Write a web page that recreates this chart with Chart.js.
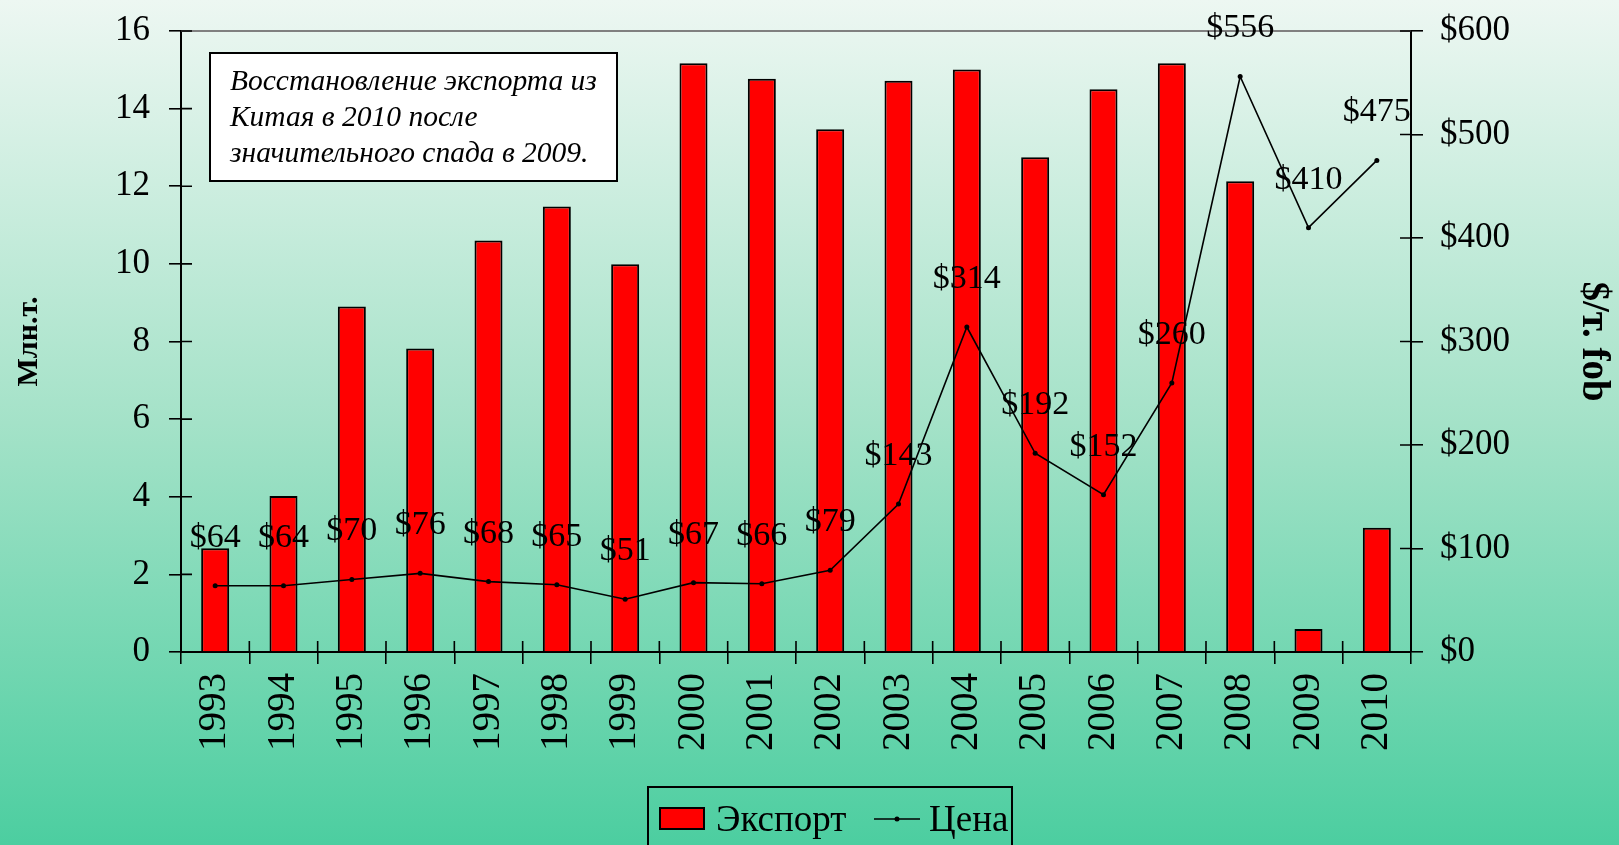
<!DOCTYPE html>
<html>
<head>
<meta charset="utf-8">
<script src="https://cdn.jsdelivr.net/npm/chart.js@4.4.1/dist/chart.umd.min.js"></script>
<style>
  html, body { margin: 0; padding: 0; }
  body {
    width: 1619px; height: 845px; overflow: hidden;
    background: linear-gradient(to bottom, #edf7f2 0%, #a4e2c8 50%, #4ccea0 100%);
  }
  canvas { display: block; }
</style>
</head>
<body>
<canvas id="chart" width="1619" height="845"></canvas>
<script>
const years = ['1993','1994','1995','1996','1997','1998','1999','2000','2001','2002','2003','2004','2005','2006','2007','2008','2009','2010'];
const exportMt = [2.67, 4.02, 8.9, 7.82, 10.6, 11.48, 9.99, 15.17, 14.77, 13.47, 14.72, 15.01, 12.75, 14.5, 15.17, 12.13, 0.59, 3.2];
const priceUsd = [64, 64, 70, 76, 68, 65, 51, 67, 66, 79, 143, 314, 192, 152, 260, 556, 410, 475];
const leftTicks = [0, 2, 4, 6, 8, 10, 12, 14, 16];
const rightTicks = [0, 100, 200, 300, 400, 500, 600];
const noteLines = ['Восстановление экспорта из', 'Китая в 2010 после', 'значительного спада в 2009.'];

const SERIF = '"Liberation Serif", "Times New Roman", serif';

// top border line + crossing tick marks inside the plot
const framePlugin = {
  id: 'frame',
  afterDatasetsDraw(chart) {
    const {ctx, chartArea: a, scales} = chart;
    ctx.save();
    ctx.strokeStyle = '#808080';
    ctx.lineWidth = 2;
    ctx.beginPath();
    ctx.moveTo(a.left, a.top);
    ctx.lineTo(a.right, a.top);
    ctx.stroke();

    ctx.strokeStyle = '#000';
    ctx.lineWidth = 1.6;
    ctx.beginPath();
    scales.y.ticks.forEach((t, i) => {
      const py = scales.y.getPixelForTick(i);
      ctx.moveTo(a.left, py); ctx.lineTo(a.left + 11, py);
    });
    scales.y1.ticks.forEach((t, i) => {
      const py = scales.y1.getPixelForTick(i);
      ctx.moveTo(a.right, py); ctx.lineTo(a.right - 11, py);
    });
    const step = (a.right - a.left) / years.length;
    for (let i = 1; i < years.length; i++) {
      const px = a.left + step * i;
      ctx.moveTo(px, a.bottom); ctx.lineTo(px, a.bottom - 11);
    }
    ctx.stroke();
    ctx.restore();
  }
};

// "$64" style labels above the price points
const priceLabelPlugin = {
  id: 'priceLabels',
  afterDatasetsDraw(chart) {
    const {ctx} = chart;
    const meta = chart.getDatasetMeta(1);
    ctx.save();
    ctx.font = '34px ' + SERIF;
    ctx.fillStyle = '#000';
    ctx.textAlign = 'center';
    ctx.textBaseline = 'middle';
    meta.data.forEach((pt, i) => {
      ctx.fillText('$' + priceUsd[i], pt.x, pt.y - 48);
    });
    ctx.restore();
  }
};

// note box + legend
const extrasPlugin = {
  id: 'extras',
  afterDraw(chart) {
    const {ctx} = chart;
    ctx.save();
    ctx.fillStyle = '#fff';
    ctx.fillRect(210, 53, 407, 128);
    ctx.strokeStyle = '#000';
    ctx.lineWidth = 2;
    ctx.strokeRect(210, 53, 407, 128);
    ctx.fillStyle = '#000';
    ctx.font = 'italic 29.5px ' + SERIF;
    ctx.textAlign = 'left';
    ctx.textBaseline = 'alphabetic';
    noteLines.forEach((s, i) => ctx.fillText(s, 230, 90 + i * 36));

    // legend
    const ds = chart.data.datasets;
    ctx.strokeRect(648, 787, 364, 80);
    ctx.fillStyle = ds[0].backgroundColor;
    ctx.fillRect(660, 808, 44, 21);
    ctx.strokeRect(660, 808, 44, 21);
    ctx.fillStyle = '#000';
    ctx.font = '37px ' + SERIF;
    ctx.fillText(ds[0].label, 716, 831);
    ctx.lineWidth = 1.6;
    ctx.beginPath();
    ctx.moveTo(874, 819); ctx.lineTo(920, 819);
    ctx.stroke();
    ctx.beginPath();
    ctx.arc(897, 819, 2.5, 0, Math.PI * 2);
    ctx.fill();
    ctx.fillText(ds[1].label, 929, 831);
    ctx.restore();
  }
};

const noPad = s => { s.paddingTop = 0; s.paddingBottom = 0; s.paddingLeft = 0; s.paddingRight = 0; };

new Chart(document.getElementById('chart'), {
  data: {
    labels: years,
    datasets: [
      {
        type: 'bar',
        label: 'Экспорт',
        data: exportMt,
        yAxisID: 'y',
        backgroundColor: '#ff0000',
        borderColor: '#000',
        borderWidth: 2,
        barPercentage: 0.41,
        categoryPercentage: 1,
        order: 2
      },
      {
        type: 'line',
        label: 'Цена',
        data: priceUsd,
        yAxisID: 'y1',
        borderColor: '#000',
        borderWidth: 1.6,
        pointRadius: 2.5,
        pointBackgroundColor: '#000',
        pointBorderWidth: 0,
        tension: 0,
        order: 1
      }
    ]
  },
  options: {
    responsive: false,
    animation: false,
    devicePixelRatio: 1,
    layout: { padding: { top: 31, left: 0, right: 0, bottom: 0 } },
    plugins: {
      legend: { display: false },
      tooltip: { enabled: false }
    },
    scales: {
      x: {
        grid: { offset: true, drawOnChartArea: false, tickLength: 12, color: '#000', lineWidth: 1.6 },
        border: { display: true, color: '#000', width: 2 },
        ticks: {
          color: '#000', font: { family: SERIF, size: 39 },
          minRotation: 90, maxRotation: 90, padding: 9, autoSkip: false
        },
        afterFit: s => { s.height = 193; noPad(s); }
      },
      y: {
        position: 'left',
        min: 0, max: 16,
        afterBuildTicks: s => { s.ticks = leftTicks.map(v => ({value: v})); },
        grid: { drawOnChartArea: false, tickLength: 12, color: '#000', lineWidth: 1.6 },
        border: { display: true, color: '#000', width: 2 },
        ticks: { color: '#000', font: { family: SERIF, size: 35 }, padding: 19 },
        title: {
          display: true, text: 'Млн.т.', color: '#000',
          font: { family: SERIF, size: 30, weight: 'bold' },
          padding: { top: 11, bottom: 0 }
        },
        afterFit: s => { s.width = 181; noPad(s); }
      },
      y1: {
        position: 'right',
        min: 0, max: 600,
        afterBuildTicks: s => { s.ticks = rightTicks.map(v => ({value: v})); },
        grid: { drawOnChartArea: false, tickLength: 12, color: '#000', lineWidth: 1.6 },
        border: { display: true, color: '#000', width: 2 },
        ticks: {
          color: '#000', font: { family: SERIF, size: 35 }, padding: 17,
          callback: v => '$' + v
        },
        title: {
          display: true, text: '$/т. fob', color: '#000',
          font: { family: SERIF, size: 39, weight: 'bold' },
          padding: { top: 3, bottom: 0 }
        },
        afterFit: s => { s.width = 208; noPad(s); }
      }
    }
  },
  plugins: [framePlugin, priceLabelPlugin, extrasPlugin]
});
</script>
</body>
</html>
